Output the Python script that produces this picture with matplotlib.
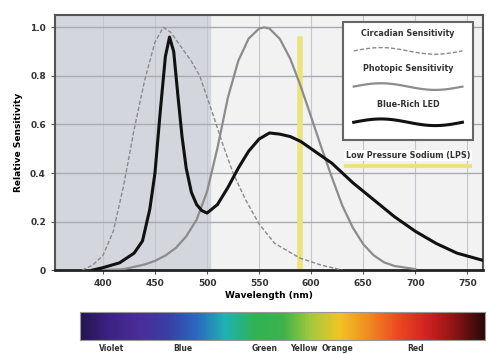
import numpy as np
import matplotlib.pyplot as plt
from matplotlib.colors import LinearSegmentedColormap

# wavelength (nm) / relative sensitivity
circ_nm = [380, 390, 400, 410, 420, 430, 440, 450, 458, 465, 475, 485, 493, 505, 515, 525,
           537, 550, 565, 589, 610, 630]
circ_val = [0.0, 0.02, 0.06, 0.16, 0.35, 0.58, 0.78, 0.94, 1.0, 0.98, 0.92, 0.86, 0.8, 0.65,
            0.52, 0.4, 0.29, 0.19, 0.11, 0.05, 0.02, 0.0]

phot_nm = [400, 420, 440, 450, 460, 470, 480, 490, 500, 510, 520, 530, 540, 550, 555, 560,
           570, 580, 590, 600, 610, 620, 630, 640, 650, 660, 670, 680, 700]
phot_val = [0.0, 0.004, 0.023, 0.038, 0.06, 0.091, 0.139, 0.208, 0.323, 0.503, 0.71, 0.862,
            0.954, 0.995, 1.0, 0.995, 0.952, 0.87, 0.757, 0.631, 0.503, 0.381, 0.265, 0.175,
            0.107, 0.061, 0.032, 0.017, 0.004]

led_nm = [390, 400, 416, 430, 438, 445, 450, 455, 460, 464, 468, 472, 476, 480, 485, 490,
          495, 500, 510, 520, 530, 540, 550, 560, 570, 580, 590, 600, 620, 640, 660, 680,
          700, 720, 740, 765]
led_val = [0.0, 0.01, 0.03, 0.07, 0.12, 0.25, 0.4, 0.65, 0.88, 0.96, 0.9, 0.72, 0.55, 0.42,
           0.32, 0.27, 0.245, 0.235, 0.27, 0.34, 0.42, 0.49, 0.54, 0.565, 0.56, 0.55, 0.53,
           0.5, 0.44, 0.36, 0.29, 0.22, 0.16, 0.11, 0.07, 0.04]

lps_nm = 589
x_ticks = [400, 450, 500, 550, 600, 650, 700, 750]
y_ticks = [0, 0.2, 0.4, 0.6, 0.8, 1.0]
y_labels = ['0', '0.2', '0.4', '0.6', '0.8', '1.0']
legend_names = ['Circadian Sensitivity', 'Photopic Sensitivity', 'Blue-Rich LED']
color_names = ['Violet', 'Blue', 'Green', 'Yellow', 'Orange', 'Red']
color_name_nm = [408, 477, 556, 594, 626, 701]

fig = plt.figure(figsize=(4.93, 3.54), dpi=100)
ax = fig.add_axes([0.1116, 0.237, 0.868, 0.72])

ax.set_xlim(354, 765)
ax.set_ylim(0, 1.05)
ax.set_facecolor('#f2f2f3')
ax.axvspan(354, 503, color='#d3d6dc', zorder=0)
for t in x_ticks:
    ax.axvline(t, color='#c4c6cc', lw=0.8, zorder=1)
for t in y_ticks[1:]:
    ax.axhline(t, color='#a9abb0', lw=1.0, zorder=1)

ax.plot([lps_nm, lps_nm], [0, 0.95], color='#ebe37f', lw=4, zorder=2)
ax.plot(circ_nm, circ_val, color='#8a8a8a', lw=1.0, ls=(0, (3, 1.5)), zorder=3)
ax.plot(phot_nm, phot_val, color='#8c8c8c', lw=1.6, zorder=3)
ax.plot(led_nm, led_val, color='#111111', lw=2.2, zorder=4)

ax.set_xticks(x_ticks)
ax.set_xticklabels([str(t) for t in x_ticks], fontsize=6.5, fontweight='bold', color='#333')
ax.set_yticks(y_ticks)
ax.set_yticklabels(y_labels, fontsize=6.5, fontweight='bold', color='#333')
ax.tick_params(length=3, color='#555')
ax.set_xlabel('Wavelength (nm)', fontsize=6.5, fontweight='bold', labelpad=2)
ax.set_ylabel('Relative Sensitivity', fontsize=6.5, fontweight='bold', labelpad=5)
for s in ax.spines.values():
    s.set_color('#555555')
    s.set_linewidth(1.5)
ax.spines['bottom'].set_color('#222222')
ax.spines['bottom'].set_linewidth(2)

# legend box with wavy samples
lx0, lx1 = 0.673, 0.977
ax.add_patch(plt.Rectangle((lx0, 0.51), lx1 - lx0, 0.463, transform=ax.transAxes,
                           facecolor='white', edgecolor='#666', lw=1.5, zorder=5))
wx = np.linspace(lx0 + 0.025, lx1 - 0.025, 60)
wave = np.sin((wx - wx[0]) / (wx[-1] - wx[0]) * 2 * np.pi)
styles = [dict(color='#8a8a8a', lw=1.0, ls=(0, (3, 1.5))),
          dict(color='#8c8c8c', lw=1.6),
          dict(color='#111111', lw=2.2)]
for i, name in enumerate(legend_names):
    ty = 0.93 - i * 0.14
    ax.text((lx0 + lx1) / 2, ty, name, transform=ax.transAxes, ha='center', va='center',
            fontsize=5.8, fontweight='bold', color='#333', zorder=6)
    ax.plot(wx, ty - 0.07 + 0.013 * wave, transform=ax.transAxes, zorder=6, **styles[i])
ax.text(0.825, 0.45, 'Low Pressure Sodium (LPS)', transform=ax.transAxes, ha='center',
        va='center', fontsize=5.8, fontweight='bold', color='#333', zorder=6,
        bbox=dict(facecolor='white', edgecolor='none', pad=1))
ax.plot([0.68, 0.97], [0.41, 0.41], transform=ax.transAxes, color='#ebe37f', lw=3, zorder=6)

# visible spectrum bar
bar = fig.add_axes([80 / 493, 1 - 340 / 354, 405 / 493, 28 / 354])
spec_colors = ['#24154f', '#3d2385', '#4a2d98', '#3a3ea3', '#2b68bf', '#1fb2b4', '#2fb356',
               '#3db24a', '#a6c93e', '#f2c423', '#f08a22', '#ec4a21', '#d32222', '#8c1414',
               '#2a0808']
cmap = LinearSegmentedColormap.from_list('spec', spec_colors)
bar.imshow(np.linspace(0, 1, 400)[None, :], aspect='auto', cmap=cmap,
           extent=(378, 768, 0, 1))
bar.set_xlim(378, 768)
bar.set_xticks([])
bar.set_yticks([])
for s in bar.spines.values():
    s.set_color('#999')
    s.set_linewidth(0.8)
for name, x in zip(color_names, color_name_nm):
    bar.text(x, -0.3, name, ha='center', va='center', fontsize=5.5, fontweight='bold',
             color='#333')

fig.savefig('out.png', dpi=100)
